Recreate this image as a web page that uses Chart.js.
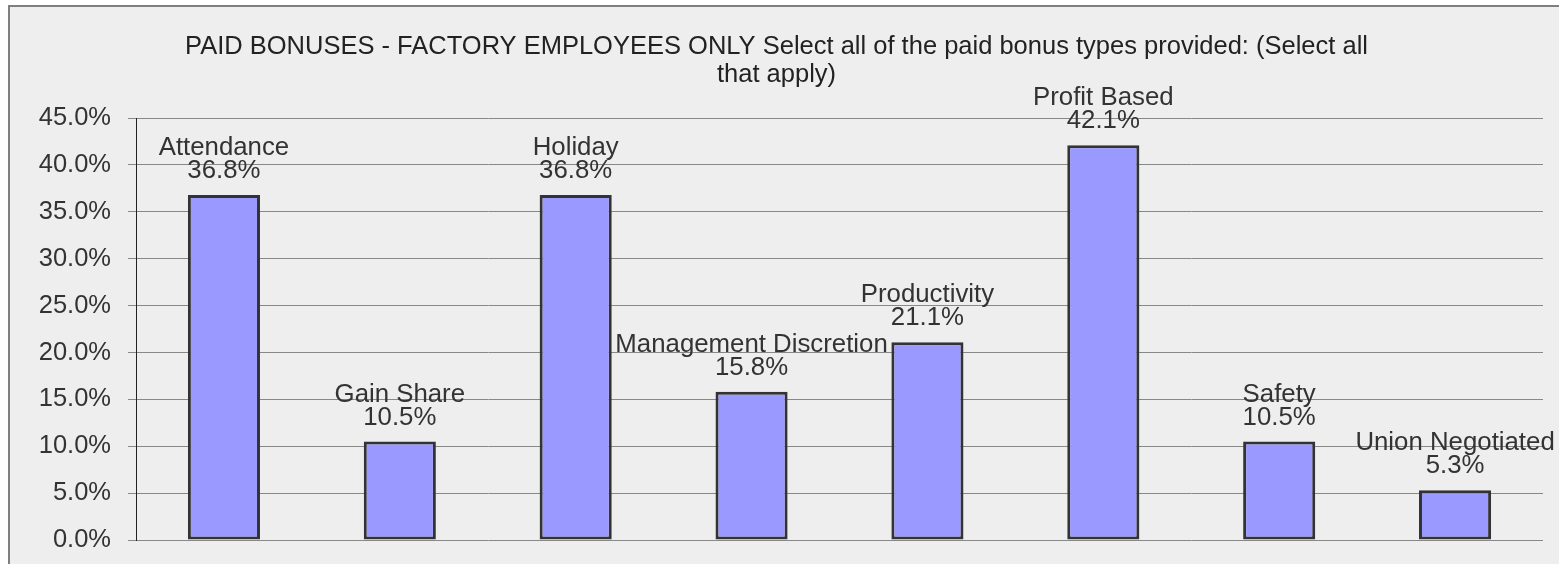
<!DOCTYPE html>
<html>
<head>
    <title>Paid Bonuses Chart</title>
    <style>
        body {
            margin: 0;
            background-color: #ffffff;
        }
        #chartBox {
            width: 1559px;
            height: 564px;
        }
    </style>
    <script src="https://cdn.jsdelivr.net/npm/chart.js"></script>
</head>
<body>
    <div id="chartBox">
        <canvas id="bonusChart"></canvas>
    </div>
    <script>
        // data
        const categories = ['Attendance', 'Gain Share', 'Holiday', 'Management Discretion',
            'Productivity', 'Profit Based', 'Safety', 'Union Negotiated'];
        const percentages = [36.8, 10.5, 36.8, 15.8, 21.1, 42.1, 10.5, 5.3];
        const titleLines = ['PAID BONUSES - FACTORY EMPLOYEES ONLY Select all of the paid bonus types provided: (Select all',
            'that apply)'];
        const yMin = 0;
        const yMax = 45;
        const yStep = 5;

        const fontName = '"Liberation Sans", Arial, sans-serif';

        // grey frame behind the chart
        const framePlugin = {
            id: 'frame',
            beforeDraw(chart) {
                const ctx = chart.ctx;
                ctx.save();
                ctx.fillStyle = '#ffffff';
                ctx.fillRect(0, 0, chart.width, chart.height);
                ctx.fillStyle = '#eeeeee';
                ctx.fillRect(9, 6, chart.width, chart.height);
                ctx.strokeStyle = '#7f7f7f';
                ctx.lineWidth = 2;
                ctx.strokeRect(9, 6, chart.width + 10, chart.height + 10);
                ctx.restore();
            }
        };

        // category name + value above every bar
        const barLabels = {
            id: 'barLabels',
            afterDatasetsDraw(chart) {
                const ctx = chart.ctx;
                const meta = chart.getDatasetMeta(0);
                ctx.save();
                ctx.font = '25.8px ' + fontName;
                ctx.fillStyle = '#333333';
                ctx.textAlign = 'center';
                ctx.textBaseline = 'middle';
                meta.data.forEach((bar, i) => {
                    ctx.fillText(categories[i], bar.x, bar.y - 47);
                    ctx.fillText(percentages[i].toFixed(1) + '%', bar.x, bar.y - 24);
                });
                ctx.restore();
            }
        };

        const ctx = document.getElementById('bonusChart').getContext('2d');
        new Chart(ctx, {
            type: 'bar',
            data: {
                labels: categories,
                datasets: [{
                    data: percentages,
                    backgroundColor: '#9999ff',
                    borderColor: '#333333',
                    borderWidth: 3,
                    borderSkipped: false,
                    barPercentage: 0.41,
                    categoryPercentage: 1.0
                }]
            },
            options: {
                responsive: true,
                maintainAspectRatio: false,
                animation: false,
                layout: {
                    padding: { top: 6, left: 10, right: 16, bottom: 24 }
                },
                plugins: {
                    legend: { display: false },
                    tooltip: { enabled: false },
                    title: {
                        display: true,
                        text: titleLines,
                        color: '#222222',
                        font: { family: fontName, size: 25.5, weight: 'normal', lineHeight: 1.1 },
                        padding: { top: 27, bottom: 29 }
                    }
                },
                scales: {
                    x: {
                        afterFit(scale) { scale.height = 0; },
                        grid: { display: false, drawTicks: false },
                        border: { display: false },
                        ticks: { display: false }
                    },
                    y: {
                        min: yMin,
                        max: yMax,
                        afterFit(scale) {
                            scale.width = 126;
                            scale.paddingTop = 0;
                            scale.paddingBottom = 0;
                        },
                        ticks: {
                            stepSize: yStep,
                            padding: 17,
                            color: '#333333',
                            font: { family: fontName, size: 25.5 },
                            callback: v => v.toFixed(1) + '%'
                        },
                        grid: {
                            color: '#888888',
                            lineWidth: 1,
                            tickLength: 8
                        },
                        border: { color: '#222222', width: 1 }
                    }
                }
            },
            plugins: [framePlugin, barLabels]
        });
    </script>
</body>
</html>
